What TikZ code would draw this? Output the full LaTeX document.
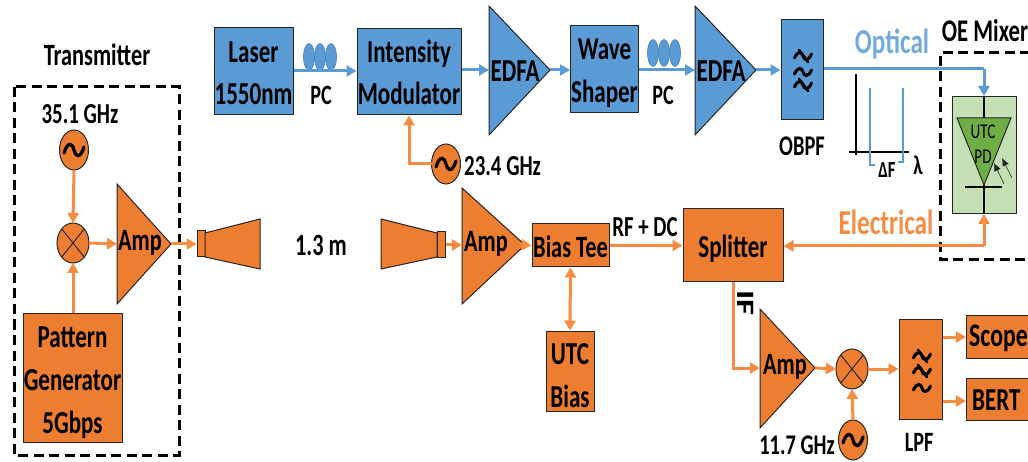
\documentclass[tikz,border=0pt]{standalone}
\usepackage{fontspec}
\setmainfont{Carlito}[FakeStretch=0.72]
\newfontfamily\iffont{Carlito}[FakeStretch=1.39]
\usetikzlibrary{arrows.meta}
\definecolor{bfill}{HTML}{5B9BD5}
\definecolor{ofill}{HTML}{ED7D31}
\definecolor{oline}{HTML}{F58C42}
\definecolor{gfill}{HTML}{C5E0B4}
\definecolor{gtri}{HTML}{70AD47}
\definecolor{edge}{HTML}{262626}
\tikzset{
  x=1pt,y=-1pt,
  lbl/.style={inner sep=0pt,align=center,font=\fontsize{#1}{#1}\selectfont\bfseries,text=black},
  lbl/.default=30,
  boxb/.style={draw=edge,line width=1pt,fill=bfill,inner sep=0pt,align=center,font=\fontsize{32}{42}\selectfont\bfseries},
  boxo/.style={draw=edge,line width=1pt,fill=ofill,inner sep=0pt,align=center,font=\fontsize{32}{43}\selectfont\bfseries},
  boxlbl/.style={inner sep=0pt,align=center,font=\fontsize{32}{#1}\selectfont\bfseries},
  tri/.style={draw=edge,line width=1pt},
  aopt/.style={draw=bfill,line width=3pt,-{Triangle[length=10pt,width=11pt]}},
  lopt/.style={draw=bfill,line width=3pt},
  aele/.style={draw=oline,line width=3pt,-{Triangle[length=10pt,width=11pt]}},
  dbox/.style={draw=black,line width=3pt,dash pattern=on 10pt off 5.5pt},
  pc/.style={draw=bfill!80!black,line width=.6pt,fill=bfill},
  wav/.style={line width=3pt,line cap=round,draw=black},
}
\newcommand{\osc}[3]{% name, x, y
  \filldraw[draw=edge,line width=1pt,fill=ofill] (#2,#3) ellipse [x radius=14.5,y radius=20];
  \coordinate (#1N) at (#2,#3-20); \coordinate (#1W) at (#2-14.5,#3); \coordinate (#1E) at (#2+14.5,#3); \coordinate (#1S) at (#2,#3+20);
  \draw[line width=3.2pt,line cap=round] (#2-10,#3+3) .. controls (#2-6,#3-10) and (#2-1,#3-6) .. (#2,#3) .. controls (#2+1,#3+6) and (#2+6,#3+10) .. (#2+10,#3-3);
}
\newcommand{\mixr}[3]{% name, x, y
  \filldraw[draw=edge,line width=1pt,fill=ofill] (#2,#3) ellipse [x radius=16,y radius=20];
  \draw[edge,line width=1pt] (#2-11.3,#3-14.1) -- (#2+11.3,#3+14.1) (#2+11.3,#3-14.1) -- (#2-11.3,#3+14.1);
  \coordinate (#1N) at (#2,#3-20); \coordinate (#1W) at (#2-16,#3); \coordinate (#1E) at (#2+16,#3); \coordinate (#1S) at (#2,#3+20);
}
\newcommand{\wave}[2]{\draw[wav] (#1-8.5,#2+2) .. controls (#1-5,#2-6) and (#1-1,#2-4) .. (#1,#2) .. controls (#1+1,#2+4) and (#1+5,#2+6) .. (#1+8.5,#2-2);}
\newcommand{\cwave}[2]{\wave{#1}{#2}\draw[wav,line width=2.6pt] (#1-4,#2-6) -- (#1+5,#2+6);}
\begin{document}
\begin{tikzpicture}
\useasboundingbox (0,0) rectangle (1028,462);
% ---- top optical chain
\node[boxb,minimum width=79pt,minimum height=87pt] (laser) at (253.5,71.5) {};
\node[boxlbl=42] (laserl) at (253.5,73.5) {Laser\\1550nm};
\node[boxb,minimum width=104pt,minimum height=86pt] (im) at (409,72) {Intensity\\Modulator};
\draw[tri,fill=bfill] (489,6) coordinate (e1a) -- (550,70) coordinate (e1t) -- (489,135) -- cycle;
\coordinate (e1i) at (489,70);
\node[lbl=32] (e1l) at (515,71) {EDFA};
\node[boxb,minimum width=68pt,minimum height=87pt] (ws) at (604.5,69.5) {};
\node[boxlbl=43] (wsl) at (604.5,73) {Wave\\Shaper};
\draw[tri,fill=bfill] (695,6) coordinate (e2a) -- (756,70) coordinate (e2t) -- (695,135) -- cycle;
\coordinate (e2i) at (695,70);
\node[lbl=32] (e2l) at (721,71) {EDFA};
\node[boxb,minimum width=42pt,minimum height=100pt] (obpf) at (802,70) {};
\cwave{803}{56}\wave{803}{72}\cwave{803}{85}
\node[lbl=28.5] (obpfl) at (802,146) {OBPF};
% PCs
\foreach \x in {309,320,331} \draw[pc] (\x,57) ellipse [x radius=5.5,y radius=13.5];
\foreach \x in {653,664,675} \draw[pc] (\x,53) ellipse [x radius=5.5,y radius=13.5];
\node[lbl=28] (pc1) at (321,95) {PC};
\node[lbl=28] (pc2) at (663,95) {PC};
\draw[aopt] (laser.east|-0,71) -- (im.west|-0,71);
\draw[aopt] (im.east|-0,70) -- (e1i);
\draw[aopt] (e1t) -- (ws.west|-0,70);
\draw[aopt] (ws.east|-0,70) -- (e2i);
\draw[aopt] (e2t) -- (obpf.west|-0,70);
% oscillator to modulator
\osc{o23}{446}{164}
\draw[aele] (o23W) -| (im.south);
\node[lbl=29,anchor=west] (f23) at (464,166) {23.4 GHz};
% spectrum sketch
\node[inner sep=0pt,text=bfill!85!white,font=\fontsize{35}{35}\selectfont\bfseries] (optical) at (892,44) {Optical};
\draw[black,line width=1.2pt] (856,74) coordinate (ya) -- (856,155) coordinate (yb);
\draw[black,line width=1.2pt] (849,152) coordinate (xa) -- (909,152) coordinate (xb);
\draw[bfill,line width=1.1pt] (870,88) -- (870,165) -- (875,165);
\draw[bfill,line width=1.1pt] (903,88) -- (903,162) -- (898,162);
\node[lbl=23] (df) at (887,170) {ΔF};
\node[lbl=27] (lam) at (918,165) {λ};
% OE mixer
\node[lbl=31.5] (oel) at (985,31) {OE Mixer};
\draw[dbox] (1030,53) -- (940,53) -- (940,260) -- (1030,260);
\node[draw=edge,line width=1pt,fill=gfill,minimum width=64pt,minimum height=117pt,inner sep=0pt] (pdbox) at (984,155) {};
\draw[black,line width=1.2pt] (pdbox.north) -- (984,118);
\draw[edge,line width=1pt,fill=gtri] (957,118) -- (1011,118) -- (984,185) coordinate (pdtip) -- cycle;
\draw[black,line width=1.8pt] (965,187) -- (1002,187);
\draw[black,line width=1.2pt] (984,185) -- (pdbox.south);
\node[inner sep=0pt,align=center,font=\fontsize{21}{25}\selectfont] (utcpd) at (983,144) {UTC\\PD};
\draw[edge,line width=.6pt,-{Latex[length=8pt,width=7pt]}] (1004,184) -- (994,163);
\draw[edge,line width=.6pt,-{Latex[length=8pt,width=7pt]}] (1012,178) -- (1002,158);
\coordinate (opt1) at (984,69);
\draw[lopt] (obpf.east|-0,69) -- (opt1);
\draw[aopt] (opt1) -- (pdbox.north);
% transmitter
\node[lbl=31] (txl) at (97,55) {Transmitter};
\draw[dbox] (14,87) rectangle (179,455);
\node[lbl=29] (f35) at (80,114) {35.1 GHz};
\osc{o35}{74}{150}
\mixr{m1}{73}{243}
\draw[tri,fill=ofill] (117,184) -- (171,244) coordinate (a1t) -- (117,304) -- cycle;
\coordinate (a1i) at (117,244);
\node[lbl=31] (a1l) at (140,243) {Amp};
\node[boxo,minimum width=99pt,minimum height=128pt] (pg) at (72.5,378) {};
\node[boxlbl=43] (pgl) at (72.5,383) {Pattern\\Generator\\5Gbps};
\draw[aele] (o35S) -- (m1N);
\draw[aele] (pg.north-|m1S) -- (m1S);
\draw[aele] (m1E) -- (a1i);
% horns
\node[draw=edge,line width=1pt,fill=ofill,minimum width=8pt,minimum height=26pt,inner sep=0pt] (h1) at (201,244) {};
\draw[tri,fill=ofill] (205,233) -- (260,219) -- (260,269) -- (205,257) -- cycle;
\draw[aele] (a1t) -- (h1.west);
\node[lbl=31] (dist) at (321,245) {1.3 m};
\draw[tri,fill=ofill] (437,233) -- (381,219) -- (381,269) -- (437,257) -- cycle;
\node[draw=edge,line width=1pt,fill=ofill,minimum width=8pt,minimum height=26pt,inner sep=0pt] (h2) at (441,245) {};
\draw[tri,fill=ofill] (462,188) -- (525,245) coordinate (a2t) -- (462,304) -- cycle;
\coordinate (a2i) at (462,245);
\node[lbl=31] (a2l) at (486,244) {Amp};
\draw[aele] (h2.east) -- (a2i);
\node[boxo,minimum width=77pt,minimum height=43pt,font=\fontsize{31}{32}\selectfont\bfseries] (bt) at (570.5,245.5) {};
\node[lbl=31] (btl) at (570.5,247) {Bias Tee};
\draw[aele] (a2t) -- (bt.west);
\node[boxo,minimum width=48pt,minimum height=80pt] (utc) at (570,371) {};
\node[boxlbl=43] (utcl) at (570,376) {UTC\\Bias};
\draw[draw=oline,line width=3pt,{Triangle[length=10pt,width=11pt]}-{Triangle[length=10pt,width=11pt]}] (bt.south) -- (utc.north);
\node[boxo,minimum width=100pt,minimum height=73pt] (spl) at (733,245.5) {};
\node[lbl=32] (spll) at (733,249) {Splitter};
\node[lbl=29] (rf) at (645,227) {RF + DC};
\draw[aele] (bt.east) -- (spl.west);
% electrical
\node[font=\fontsize{35}{35}\selectfont\bfseries,text=oline,inner sep=0pt] (electrical) at (886,222) {Electrical};
\coordinate (ec) at (984,246);
\draw[aele] (ec) -- (spl.east|-ec);
\draw[aele] (ec) -- (pdbox.south);
% IF section
\node[inner sep=0pt,rotate=-90,font=\iffont\fontsize{25}{25}\selectfont\bfseries] (ifl) at (746,303) {IF};
\draw[tri,fill=ofill] (760,309) -- (815,368) coordinate (a3t) -- (760,428) -- cycle;
\coordinate (a3i) at (760,368);
\node[lbl=31] (a3l) at (785,367) {Amp};
\coordinate (ifc) at (733,368);
\draw[aele] (spl.south) -- (ifc) -- (a3i);
\mixr{m2}{852}{369}
\draw[aele] (a3t) -- (m2W);
\osc{o11}{853}{440}
\draw[aele] (o11N) -- (m2S);
\node[lbl=28.5] (f11) at (797,445) {11.7 GHz};
\node[boxo,minimum width=43pt,minimum height=99pt] (lpf) at (920.5,369.5) {};
\cwave{922}{356}\cwave{922}{371}\wave{922}{388}
\node[lbl=28] (lpfl) at (919,442) {LPF};
\draw[aele] (m2E) -- (lpf.west|-m2E);
\node[boxo,minimum width=64pt,minimum height=42pt,anchor=west] (sco) at (966,337) {};
\node[lbl=33,anchor=west] (scol) at (969,338) {Scope};
\node[boxo,minimum width=64pt,minimum height=42pt,anchor=west] (ber) at (966,399) {};
\node[lbl=32,anchor=west] (berl) at (972,400) {BERT};
\draw[aele] (lpf.east|-0,337) -- (sco.west);
\draw[aele] (lpf.east|-0,401) -- (ber.west|-0,401);
\end{tikzpicture}
\end{document}
